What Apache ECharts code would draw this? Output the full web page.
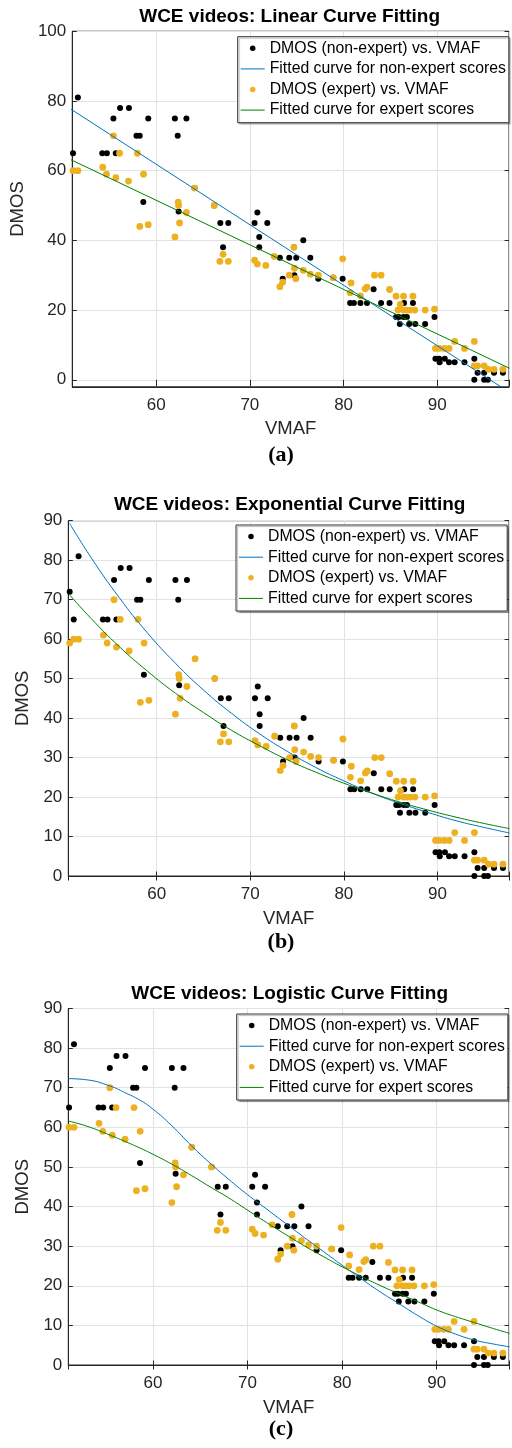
<!DOCTYPE html>
<html><head><meta charset="utf-8">
<script src="https://cdn.jsdelivr.net/npm/echarts@6/dist/echarts.min.js"></script>
<style>html,body{margin:0;padding:0;background:#fff}#c{width:512px;height:1448px}</style>
</head><body><div id="c"></div><script>
// ---- Data ----
const nonExpertVMAF = [50.7,51.13,51.65,54.25,54.74,55.44,55.69,56.15,57.1,57.9,58.25,58.63,59.16,62.0,62.3,62.4,63.23,64.1,66.2,66.85,67.14,67.7,70.5,70.8,71.0,71.0,71.86,73.2,73.5,74.2,74.7,74.75,74.95,75.7,76.45,77.3,78.9,79.9,80.7,81.1,81.8,82.5,83.2,84.0,84.9,85.6,85.9,86.0,86.4,86.45,86.75,87.0,87.4,87.65,88.7,89.7,89.8,90.2,90.25,90.8,91.25,91.85,92.9,93.95,93.95,94.3,95.0,95.0,95.4,96.05,97.0];
const nonExpertDMOS = [72,65,81,65,65,75,65,78,78,70,70,51,75,75,70,48.3,75,55,50,45,38,45,45,48,41,38,45,35,29,35,38,30,35,40,35,29,29.3,29,22,22,22,22,26,22,22,18,18,16,18,22,18,16,22,16,16,18,6,6,5,6,5,5,5,6,0,2,2,0,0,2,2];
const expertVMAF = [50.7,51.13,51.65,54.3,54.7,55.44,55.7,56.1,57.05,58.0,58.25,58.65,59.16,62.0,62.35,62.4,62.5,63.23,64.1,66.2,66.8,67.14,67.7,70.5,70.8,71.7,72.6,73.2,73.5,74.2,74.7,74.75,74.9,75.7,76.45,77.3,78.9,79.9,80.7,80.8,81.8,82.3,82.5,83.3,84.0,84.9,85.6,85.8,86.05,86.4,86.4,86.75,87.1,87.4,87.6,88.7,89.7,89.8,90.2,90.75,91.25,91.85,92.9,93.95,93.95,94.3,95.0,95.45,96.05,97.0];
const expertDMOS = [59,60,60,61,59,70,58,65,57,65,44,59,44.5,41,51,50,45,48,55,50,34,36,34,34.3,33.2,32.8,35.4,26.7,28,30,38,32,29,31.4,30.3,30,29.3,34.7,25,27.8,24.1,26.1,26.6,30,30,25.9,24,20,21.6,24,20,20,20,24,20,20,20.3,9,9,9,9,11,9,11,4,4,4,3,3,3];

// fitted curves
const linearFitVMAF = [50.7, 97.7];
const linearFitNonExpert = [78.0, -3.6];
const linearFitExpert = [63.4, 3.3];
const expFitVMAF = [50.7,53,56,59,62,65,68,71,74,77,80,83,86,89,92,95,97.7];
const expFitNonExpert = [89.3,80.6,70.5,61.6,53.9,47.1,41.2,36.0,31.5,27.5,24.1,21.0,18.4,16.1,14.0,12.3,10.9];
const expFitExpert = [71.2,65.2,58.1,51.9,46.3,41.4,36.9,33.0,29.4,26.3,23.5,21.0,18.7,16.7,14.9,13.3,12.0];
const logFitVMAF = [51.05,53,55.5,57,58.6,60,62,64.1,66.3,68,70,72,74,76,78,80,82,84,86,88,90,92,94,96,97.7];
const logFitNonExpert = [72.3,72.0,70.4,68.8,66.9,64.6,60.4,55.3,50.4,46.9,43.0,39.4,35.8,32.2,28.7,25.2,21.8,18.5,15.5,12.5,9.8,7.8,6.3,5.3,4.6];
const logFitExpert = [61.6,60.3,58.0,56.5,54.8,53.2,50.7,47.8,44.6,42.2,39.1,36.0,33.0,30.1,27.4,24.8,22.4,20.1,18.0,16.0,13.9,12.2,10.7,9.2,8.0];

const panelTitles = ['WCE videos: Linear Curve Fitting','WCE videos: Exponential Curve Fitting','WCE videos: Logistic Curve Fitting'];
const panelLabels = ['(a)','(b)','(c)'];
const xTickStep = 10;
const yTickSteps = [20, 10, 10];

const seriesNames = ['DMOS (non-expert) vs. VMAF','Fitted curve for non-expert scores','DMOS (expert) vs. VMAF','Fitted curve for expert scores'];

// ---- layout ----
const FONT = '"Liberation Sans", Arial, Helvetica, sans-serif';
const panels = [
  {xMin:51.05, yMin:-2, yMax:100, top:31.25, height:355.5, titleY:16.3, labelY:455, legendLeft:237.7, legendTop:36.7,
   fit:[linearFitVMAF, linearFitNonExpert, linearFitExpert], smooth:false},
  {xMin:50.55, yMin:0, yMax:90, top:520.7, height:355.3, titleY:505, labelY:942, legendLeft:236, legendTop:525,
   fit:[expFitVMAF, expFitNonExpert, expFitExpert], smooth:true},
  {xMin:51.05, yMin:0, yMax:90, top:1008.5, height:356.5, titleY:993.3, labelY:1429, legendLeft:236.7, legendTop:1014,
   fit:[logFitVMAF, logFitNonExpert, logFitExpert], smooth:true}
];
const X_MAX = 97.65, LEFT = 68.3, WIDTH = 442.7;
const AX = '#262626';
const LINE_ICON = 'path://M0,0L100,0L100,4.2L0,4.2Z';

function zip(a, b){ return a.map((v,i)=>[v,b[i]]); }
function isMult(v, s){ return Math.abs(v - Math.round(v/s)*s) < 1e-6; }

const grid=[], xAxis=[], yAxis=[], series=[], legend=[], graphic=[];
panels.forEach((p,i)=>{
  grid.push({left:LEFT, top:p.top, width:WIDTH, height:p.height, show:true, borderColor:AX, borderWidth:1, backgroundColor:'#fff'});
  const yStep = yTickSteps[i];
  const yBase = {type:'value', gridIndex:i, min:p.yMin, max:p.yMax};
  if (isMult(p.yMin, yStep)) yBase.interval = yStep; else yBase.splitNumber = 5;
  xAxis.push({type:'value', gridIndex:i, position:'bottom', min:p.xMin, max:X_MAX, splitNumber:5,
    axisLine:{show:true, onZero:false, lineStyle:{color:AX, width:1}},
    axisTick:{show:true, inside:true, length:4.5, lineStyle:{color:AX}},
    axisLabel:{margin:10, fontSize:17, color:AX, fontFamily:FONT, showMinLabel:true, showMaxLabel:true,
      formatter:v=> isMult(v,xTickStep) ? String(Math.round(v)) : ''},
    splitLine:{show:true, lineStyle:{color:'#e2e2e2', width:1}},
    name:'VMAF', nameLocation:'middle', nameGap:33,
    nameTextStyle:{fontSize:18.5, color:AX, fontFamily:FONT}});
  xAxis.push({type:'value', gridIndex:i, position:'top', min:p.xMin, max:X_MAX, splitNumber:5,
    axisLine:{show:false}, axisTick:{show:true, inside:true, length:4.5, lineStyle:{color:AX}},
    axisLabel:{show:false}, splitLine:{show:false}});
  yAxis.push(Object.assign({}, yBase, {position:'left',
    axisLine:{show:true, onZero:false, lineStyle:{color:AX, width:1}},
    axisTick:{show:true, inside:true, length:4.5, lineStyle:{color:AX}},
    axisLabel:{margin:6, fontSize:17, color:AX, fontFamily:FONT, showMinLabel:true, showMaxLabel:true,
      formatter:v=> isMult(v,yStep) ? String(Math.round(v)) : ''},
    splitLine:{show:true, lineStyle:{color:'#e2e2e2', width:1}},
    name:'DMOS', nameLocation:'middle', nameGap:31,
    nameTextStyle:{fontSize:18.5, color:AX, fontFamily:FONT}}));
  yAxis.push(Object.assign({}, yBase, {position:'right',
    axisLine:{show:false}, axisTick:{show:true, inside:true, length:4.5, lineStyle:{color:AX}},
    axisLabel:{show:false}, splitLine:{show:false}}));

  const xi = i*2, yi = i*2;
  series.push({type:'scatter', name:seriesNames[0], xAxisIndex:xi, yAxisIndex:yi, symbol:'circle', symbolSize:6,
    itemStyle:{color:'#000000', opacity:1}, data:zip(nonExpertVMAF, nonExpertDMOS), clip:true});
  series.push({type:'line', name:seriesNames[1], xAxisIndex:xi, yAxisIndex:yi, symbol:'none', showSymbol:false,
    smooth:p.smooth, lineStyle:{color:'#0072BD', width:1}, itemStyle:{color:'#0072BD'}, data:zip(p.fit[0], p.fit[1]), clip:true});
  series.push({type:'scatter', name:seriesNames[2], xAxisIndex:xi, yAxisIndex:yi, symbol:'circle', symbolSize:6.8,
    itemStyle:{color:'#EDB120', opacity:1}, data:zip(expertVMAF, expertDMOS), clip:true});
  series.push({type:'line', name:seriesNames[3], xAxisIndex:xi, yAxisIndex:yi, symbol:'none', showSymbol:false,
    smooth:p.smooth, lineStyle:{color:'#008000', width:1}, itemStyle:{color:'#008000'}, data:zip(p.fit[0], p.fit[2]), clip:true});

  legend.push({orient:'vertical', left:p.legendLeft, top:p.legendTop, selectedMode:false,
    data:[
      {name:seriesNames[0], icon:'circle', itemStyle:{color:'#000', opacity:1}},
      {name:seriesNames[1], icon:LINE_ICON, itemStyle:{color:'#0072BD', opacity:1}},
      {name:seriesNames[2], icon:'circle', itemStyle:{color:'#EDB120', opacity:1}},
      {name:seriesNames[3], icon:LINE_ICON, itemStyle:{color:'#008000', opacity:1}}
    ],
    symbolKeepAspect:true,
    itemWidth:24, itemHeight:5.5, itemGap:2.6, padding:[2.6,3,3.6,3],
    backgroundColor:'#fff', borderColor:'#333', borderWidth:1, borderRadius:0,
    shadowColor:'rgba(0,0,0,0.28)', shadowOffsetX:1.5, shadowOffsetY:1.5, shadowBlur:1,
    textStyle:{fontSize:15.8, color:'#000', fontFamily:FONT, lineHeight:18}});

  graphic.push({type:'text', silent:true, style:{text:panelTitles[i], x:LEFT+WIDTH/2, y:p.titleY, align:'center', verticalAlign:'middle',
    font:'bold 19px ' + FONT, fill:'#000'}});
  graphic.push({type:'text', silent:true, style:{text:panelLabels[i], x:281, y:p.labelY, align:'center', verticalAlign:'middle',
    font:'bold 22px "Liberation Serif", "Times New Roman", serif', fill:'#000'}});
});

const chart = echarts.init(document.getElementById('c'), null, {renderer:'canvas'});
chart.setOption({animation:false, backgroundColor:'#fff', textStyle:{fontFamily:FONT},
  grid, xAxis, yAxis, series, legend, graphic});
</script></body></html>
